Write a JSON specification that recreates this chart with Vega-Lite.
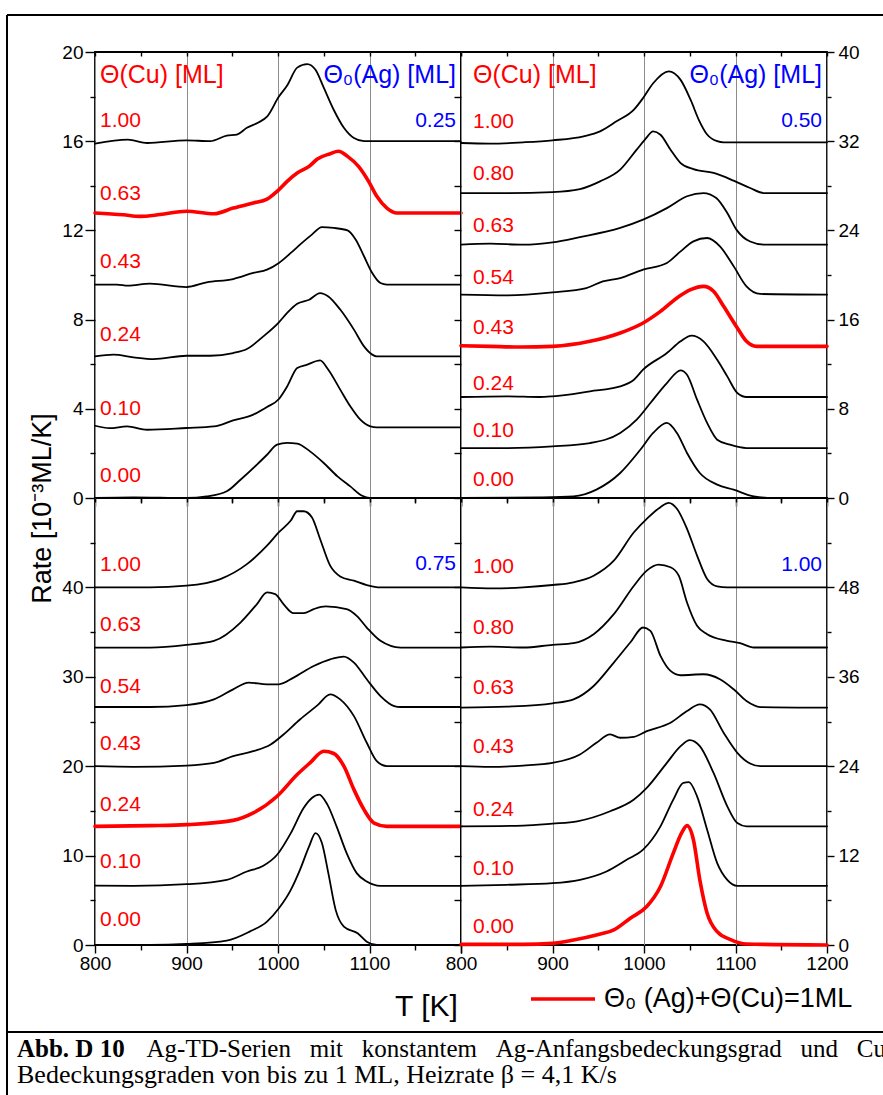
{
"$schema": "https://vega.github.io/schema/vega-lite/v6.json",
"autosize": {"type": "none"},
"padding": {"left": 7, "top": 15, "right": 876, "bottom": 1080},
"background": "white",
"bounds": "flush",
"align": "each",
"spacing": 0,
"columns": 3,
"config": {
  "view": {"stroke": "black", "strokeWidth": 1.8},
  "axis": {"domain": false, "labelFont": "Liberation Sans", "labelFontSize": 19, "labelColor": "black", "tickColor": "black", "tickWidth": 1.4, "titleFont": "Liberation Sans", "titleFontWeight": "normal", "titleColor": "black", "labelOverlap": false, "labelFlush": false, "grid": false, "gridColor": "#8c8c8c", "gridWidth": 1},
  "line": {"strokeJoin": "round", "strokeCap": "round"}
},
"datasets": {
"tl": [
{"c":"1.00","k":"b","T":800,"r":15.89},{"c":"1.00","k":"b","T":836,"r":16.07},{"c":"1.00","k":"b","T":857,"r":15.92},{"c":"1.00","k":"b","T":900,"r":16.04},{"c":"1.00","k":"b","T":926,"r":16.0},{"c":"1.00","k":"b","T":944,"r":16.25},{"c":"1.00","k":"b","T":955,"r":16.3},{"c":"1.00","k":"b","T":966,"r":16.6},{"c":"1.00","k":"b","T":979,"r":16.85},{"c":"1.00","k":"b","T":988,"r":17.1},{"c":"1.00","k":"b","T":1001,"r":18.0},{"c":"1.00","k":"b","T":1010,"r":18.5},{"c":"1.00","k":"b","T":1021,"r":19.3},{"c":"1.00","k":"b","T":1032,"r":19.46},{"c":"1.00","k":"b","T":1041,"r":19.2},{"c":"1.00","k":"b","T":1050,"r":18.4},{"c":"1.00","k":"b","T":1061,"r":17.4},{"c":"1.00","k":"b","T":1072,"r":16.6},{"c":"1.00","k":"b","T":1083,"r":16.14},{"c":"1.00","k":"b","T":1094,"r":16.0},{"c":"1.00","k":"b","T":1200,"r":16.0},
{"c":"0.63","k":"r","T":800,"r":12.78},{"c":"0.63","k":"r","T":831,"r":12.7},{"c":"0.63","k":"r","T":849,"r":12.63},{"c":"0.63","k":"r","T":871,"r":12.71},{"c":"0.63","k":"r","T":900,"r":12.86},{"c":"0.63","k":"r","T":930,"r":12.75},{"c":"0.63","k":"r","T":951,"r":13.0},{"c":"0.63","k":"r","T":973,"r":13.23},{"c":"0.63","k":"r","T":988,"r":13.4},{"c":"0.63","k":"r","T":999,"r":13.75},{"c":"0.63","k":"r","T":1010,"r":14.2},{"c":"0.63","k":"r","T":1021,"r":14.57},{"c":"0.63","k":"r","T":1034,"r":14.87},{"c":"0.63","k":"r","T":1043,"r":15.2},{"c":"0.63","k":"r","T":1057,"r":15.44},{"c":"0.63","k":"r","T":1066,"r":15.55},{"c":"0.63","k":"r","T":1076,"r":15.32},{"c":"0.63","k":"r","T":1088,"r":14.87},{"c":"0.63","k":"r","T":1099,"r":14.2},{"c":"0.63","k":"r","T":1108,"r":13.53},{"c":"0.63","k":"r","T":1119,"r":13.0},{"c":"0.63","k":"r","T":1130,"r":12.78},{"c":"0.63","k":"r","T":1200,"r":12.78},
{"c":"0.43","k":"b","T":800,"r":9.57},{"c":"0.43","k":"b","T":824,"r":9.57},{"c":"0.43","k":"b","T":836,"r":9.52},{"c":"0.43","k":"b","T":860,"r":9.61},{"c":"0.43","k":"b","T":900,"r":9.46},{"c":"0.43","k":"b","T":922,"r":9.67},{"c":"0.43","k":"b","T":951,"r":9.82},{"c":"0.43","k":"b","T":973,"r":10.09},{"c":"0.43","k":"b","T":988,"r":10.24},{"c":"0.43","k":"b","T":1001,"r":10.54},{"c":"0.43","k":"b","T":1014,"r":10.99},{"c":"0.43","k":"b","T":1024,"r":11.36},{"c":"0.43","k":"b","T":1037,"r":11.81},{"c":"0.43","k":"b","T":1048,"r":12.15},{"c":"0.43","k":"b","T":1061,"r":12.11},{"c":"0.43","k":"b","T":1076,"r":12.0},{"c":"0.43","k":"b","T":1085,"r":11.58},{"c":"0.43","k":"b","T":1094,"r":10.84},{"c":"0.43","k":"b","T":1103,"r":10.09},{"c":"0.43","k":"b","T":1112,"r":9.64},{"c":"0.43","k":"b","T":1119,"r":9.57},{"c":"0.43","k":"b","T":1200,"r":9.57},
{"c":"0.24","k":"b","T":800,"r":6.35},{"c":"0.24","k":"b","T":820,"r":6.43},{"c":"0.24","k":"b","T":842,"r":6.31},{"c":"0.24","k":"b","T":864,"r":6.23},{"c":"0.24","k":"b","T":900,"r":6.38},{"c":"0.24","k":"b","T":926,"r":6.38},{"c":"0.24","k":"b","T":951,"r":6.5},{"c":"0.24","k":"b","T":966,"r":6.68},{"c":"0.24","k":"b","T":984,"r":7.25},{"c":"0.24","k":"b","T":1001,"r":7.88},{"c":"0.24","k":"b","T":1010,"r":8.3},{"c":"0.24","k":"b","T":1021,"r":8.71},{"c":"0.24","k":"b","T":1034,"r":8.89},{"c":"0.24","k":"b","T":1046,"r":9.19},{"c":"0.24","k":"b","T":1055,"r":9.04},{"c":"0.24","k":"b","T":1068,"r":8.45},{"c":"0.24","k":"b","T":1083,"r":7.55},{"c":"0.24","k":"b","T":1094,"r":6.8},{"c":"0.24","k":"b","T":1103,"r":6.43},{"c":"0.24","k":"b","T":1108,"r":6.35},{"c":"0.24","k":"b","T":1200,"r":6.35},
{"c":"0.10","k":"b","T":800,"r":3.24},{"c":"0.10","k":"b","T":816,"r":3.13},{"c":"0.10","k":"b","T":835,"r":3.21},{"c":"0.10","k":"b","T":857,"r":3.06},{"c":"0.10","k":"b","T":900,"r":3.14},{"c":"0.10","k":"b","T":930,"r":3.21},{"c":"0.10","k":"b","T":951,"r":3.48},{"c":"0.10","k":"b","T":973,"r":3.74},{"c":"0.10","k":"b","T":988,"r":4.08},{"c":"0.10","k":"b","T":1001,"r":4.44},{"c":"0.10","k":"b","T":1010,"r":5.0},{"c":"0.10","k":"b","T":1021,"r":5.83},{"c":"0.10","k":"b","T":1032,"r":5.98},{"c":"0.10","k":"b","T":1046,"r":6.17},{"c":"0.10","k":"b","T":1055,"r":5.75},{"c":"0.10","k":"b","T":1068,"r":4.86},{"c":"0.10","k":"b","T":1079,"r":4.11},{"c":"0.10","k":"b","T":1090,"r":3.51},{"c":"0.10","k":"b","T":1101,"r":3.21},{"c":"0.10","k":"b","T":1108,"r":3.17},{"c":"0.10","k":"b","T":1200,"r":3.17},
{"c":"0.00","k":"b","T":800,"r":0},{"c":"0.00","k":"b","T":842,"r":0.03},{"c":"0.00","k":"b","T":900,"r":0},{"c":"0.00","k":"b","T":922,"r":0.07},{"c":"0.00","k":"b","T":944,"r":0.3},{"c":"0.00","k":"b","T":959,"r":0.82},{"c":"0.00","k":"b","T":977,"r":1.5},{"c":"0.00","k":"b","T":988,"r":1.94},{"c":"0.00","k":"b","T":999,"r":2.39},{"c":"0.00","k":"b","T":1010,"r":2.47},{"c":"0.00","k":"b","T":1021,"r":2.44},{"c":"0.00","k":"b","T":1035,"r":2.09},{"c":"0.00","k":"b","T":1050,"r":1.57},{"c":"0.00","k":"b","T":1065,"r":0.97},{"c":"0.00","k":"b","T":1079,"r":0.52},{"c":"0.00","k":"b","T":1092,"r":0.1},{"c":"0.00","k":"b","T":1100,"r":0},{"c":"0.00","k":"b","T":1200,"r":0}
],
"tr": [
{"c":"1.00","k":"b","T":800,"r":31.84},{"c":"1.00","k":"b","T":832,"r":31.78},{"c":"1.00","k":"b","T":868,"r":31.9},{"c":"1.00","k":"b","T":900,"r":32.08},{"c":"1.00","k":"b","T":934,"r":32.44},{"c":"1.00","k":"b","T":952,"r":32.88},{"c":"1.00","k":"b","T":970,"r":33.78},{"c":"1.00","k":"b","T":989,"r":34.83},{"c":"1.00","k":"b","T":999,"r":35.87},{"c":"1.00","k":"b","T":1010,"r":37.2},{"c":"1.00","k":"b","T":1027,"r":38.27},{"c":"1.00","k":"b","T":1040,"r":37.5},{"c":"1.00","k":"b","T":1051,"r":35.7},{"c":"1.00","k":"b","T":1060,"r":33.9},{"c":"1.00","k":"b","T":1069,"r":32.6},{"c":"1.00","k":"b","T":1080,"r":32.0},{"c":"1.00","k":"b","T":1087,"r":31.9},{"c":"1.00","k":"b","T":1200,"r":31.9},
{"c":"0.80","k":"b","T":800,"r":27.35},{"c":"0.80","k":"b","T":850,"r":27.35},{"c":"0.80","k":"b","T":900,"r":27.44},{"c":"0.80","k":"b","T":930,"r":27.71},{"c":"0.80","k":"b","T":952,"r":28.4},{"c":"0.80","k":"b","T":974,"r":29.45},{"c":"0.80","k":"b","T":992,"r":31.24},{"c":"0.80","k":"b","T":1001,"r":32.14},{"c":"0.80","k":"b","T":1010,"r":32.88},{"c":"0.80","k":"b","T":1018,"r":32.58},{"c":"0.80","k":"b","T":1029,"r":31.24},{"c":"0.80","k":"b","T":1040,"r":30.04},{"c":"0.80","k":"b","T":1054,"r":29.5},{"c":"0.80","k":"b","T":1076,"r":29.15},{"c":"0.80","k":"b","T":1098,"r":28.46},{"c":"0.80","k":"b","T":1116,"r":27.8},{"c":"0.80","k":"b","T":1131,"r":27.35},{"c":"0.80","k":"b","T":1200,"r":27.35},
{"c":"0.63","k":"b","T":800,"r":22.72},{"c":"0.63","k":"b","T":832,"r":22.81},{"c":"0.63","k":"b","T":868,"r":22.72},{"c":"0.63","k":"b","T":900,"r":22.93},{"c":"0.63","k":"b","T":930,"r":23.4},{"c":"0.63","k":"b","T":974,"r":24.22},{"c":"0.63","k":"b","T":999,"r":24.96},{"c":"0.63","k":"b","T":1025,"r":26.0},{"c":"0.63","k":"b","T":1047,"r":27.06},{"c":"0.63","k":"b","T":1065,"r":27.35},{"c":"0.63","k":"b","T":1079,"r":26.9},{"c":"0.63","k":"b","T":1091,"r":25.56},{"c":"0.63","k":"b","T":1101,"r":24.07},{"c":"0.63","k":"b","T":1116,"r":23.0},{"c":"0.63","k":"b","T":1131,"r":22.72},{"c":"0.63","k":"b","T":1200,"r":22.72},
{"c":"0.54","k":"b","T":800,"r":18.24},{"c":"0.54","k":"b","T":850,"r":18.18},{"c":"0.54","k":"b","T":900,"r":18.45},{"c":"0.54","k":"b","T":937,"r":18.83},{"c":"0.54","k":"b","T":955,"r":19.43},{"c":"0.54","k":"b","T":974,"r":19.73},{"c":"0.54","k":"b","T":999,"r":20.48},{"c":"0.54","k":"b","T":1025,"r":21.08},{"c":"0.54","k":"b","T":1040,"r":22.12},{"c":"0.54","k":"b","T":1054,"r":23.02},{"c":"0.54","k":"b","T":1069,"r":23.32},{"c":"0.54","k":"b","T":1083,"r":22.57},{"c":"0.54","k":"b","T":1098,"r":20.78},{"c":"0.54","k":"b","T":1112,"r":18.98},{"c":"0.54","k":"b","T":1127,"r":18.3},{"c":"0.54","k":"b","T":1200,"r":18.24},
{"c":"0.43","k":"r","T":800,"r":13.66},{"c":"0.43","k":"r","T":832,"r":13.6},{"c":"0.43","k":"r","T":865,"r":13.54},{"c":"0.43","k":"r","T":900,"r":13.6},{"c":"0.43","k":"r","T":941,"r":14.05},{"c":"0.43","k":"r","T":974,"r":14.8},{"c":"0.43","k":"r","T":999,"r":15.7},{"c":"0.43","k":"r","T":1018,"r":16.74},{"c":"0.43","k":"r","T":1036,"r":17.94},{"c":"0.43","k":"r","T":1051,"r":18.68},{"c":"0.43","k":"r","T":1065,"r":18.98},{"c":"0.43","k":"r","T":1076,"r":18.54},{"c":"0.43","k":"r","T":1087,"r":17.19},{"c":"0.43","k":"r","T":1102,"r":15.25},{"c":"0.43","k":"r","T":1112,"r":14.05},{"c":"0.43","k":"r","T":1123,"r":13.6},{"c":"0.43","k":"r","T":1200,"r":13.6},
{"c":"0.24","k":"b","T":800,"r":9.06},{"c":"0.24","k":"b","T":850,"r":9.12},{"c":"0.24","k":"b","T":886,"r":9.06},{"c":"0.24","k":"b","T":900,"r":9.12},{"c":"0.24","k":"b","T":941,"r":9.57},{"c":"0.24","k":"b","T":974,"r":10.01},{"c":"0.24","k":"b","T":989,"r":10.61},{"c":"0.24","k":"b","T":999,"r":11.51},{"c":"0.24","k":"b","T":1025,"r":13.0},{"c":"0.24","k":"b","T":1040,"r":14.05},{"c":"0.24","k":"b","T":1052,"r":14.56},{"c":"0.24","k":"b","T":1065,"r":14.05},{"c":"0.24","k":"b","T":1080,"r":12.4},{"c":"0.24","k":"b","T":1091,"r":10.91},{"c":"0.24","k":"b","T":1102,"r":9.42},{"c":"0.24","k":"b","T":1112,"r":9.06},{"c":"0.24","k":"b","T":1200,"r":9.06},
{"c":"0.10","k":"b","T":800,"r":4.48},{"c":"0.10","k":"b","T":850,"r":4.48},{"c":"0.10","k":"b","T":900,"r":4.63},{"c":"0.10","k":"b","T":941,"r":4.93},{"c":"0.10","k":"b","T":974,"r":5.83},{"c":"0.10","k":"b","T":992,"r":7.03},{"c":"0.10","k":"b","T":1007,"r":8.52},{"c":"0.10","k":"b","T":1025,"r":10.31},{"c":"0.10","k":"b","T":1040,"r":11.45},{"c":"0.10","k":"b","T":1047,"r":11.06},{"c":"0.10","k":"b","T":1058,"r":8.82},{"c":"0.10","k":"b","T":1069,"r":6.73},{"c":"0.10","k":"b","T":1080,"r":5.23},{"c":"0.10","k":"b","T":1094,"r":4.78},{"c":"0.10","k":"b","T":1112,"r":4.48},{"c":"0.10","k":"b","T":1200,"r":4.48},
{"c":"0.00","k":"b","T":800,"r":0},{"c":"0.00","k":"b","T":886,"r":0.06},{"c":"0.00","k":"b","T":923,"r":0.15},{"c":"0.00","k":"b","T":948,"r":0.75},{"c":"0.00","k":"b","T":974,"r":2.24},{"c":"0.00","k":"b","T":996,"r":4.33},{"c":"0.00","k":"b","T":1010,"r":5.83},{"c":"0.00","k":"b","T":1025,"r":6.73},{"c":"0.00","k":"b","T":1036,"r":5.83},{"c":"0.00","k":"b","T":1047,"r":4.04},{"c":"0.00","k":"b","T":1061,"r":2.24},{"c":"0.00","k":"b","T":1080,"r":1.2},{"c":"0.00","k":"b","T":1098,"r":0.75},{"c":"0.00","k":"b","T":1120,"r":0.15},{"c":"0.00","k":"b","T":1141,"r":0},{"c":"0.00","k":"b","T":1200,"r":0}
],
"bl": [
{"c":"1.00","k":"b","T":800,"r":40},{"c":"1.00","k":"b","T":860,"r":40},{"c":"1.00","k":"b","T":900,"r":40.19},{"c":"1.00","k":"b","T":937,"r":40.93},{"c":"1.00","k":"b","T":966,"r":42.6},{"c":"1.00","k":"b","T":988,"r":44.67},{"c":"1.00","k":"b","T":1001,"r":46.17},{"c":"1.00","k":"b","T":1014,"r":47.48},{"c":"1.00","k":"b","T":1021,"r":48.52},{"c":"1.00","k":"b","T":1028,"r":48.52},{"c":"1.00","k":"b","T":1037,"r":47.85},{"c":"1.00","k":"b","T":1046,"r":45.42},{"c":"1.00","k":"b","T":1057,"r":42.43},{"c":"1.00","k":"b","T":1068,"r":41.23},{"c":"1.00","k":"b","T":1083,"r":40.75},{"c":"1.00","k":"b","T":1097,"r":40.26},{"c":"1.00","k":"b","T":1112,"r":40},{"c":"1.00","k":"b","T":1200,"r":40},
{"c":"0.63","k":"b","T":800,"r":33.27},{"c":"0.63","k":"b","T":860,"r":33.27},{"c":"0.63","k":"b","T":900,"r":33.57},{"c":"0.63","k":"b","T":930,"r":34.02},{"c":"0.63","k":"b","T":959,"r":36.07},{"c":"0.63","k":"b","T":977,"r":38.13},{"c":"0.63","k":"b","T":988,"r":39.44},{"c":"0.63","k":"b","T":997,"r":39.25},{"c":"0.63","k":"b","T":1006,"r":38.13},{"c":"0.63","k":"b","T":1017,"r":37.12},{"c":"0.63","k":"b","T":1028,"r":37.12},{"c":"0.63","k":"b","T":1039,"r":37.57},{"c":"0.63","k":"b","T":1052,"r":37.87},{"c":"0.63","k":"b","T":1075,"r":37.57},{"c":"0.63","k":"b","T":1086,"r":36.82},{"c":"0.63","k":"b","T":1097,"r":35.51},{"c":"0.63","k":"b","T":1112,"r":34.02},{"c":"0.63","k":"b","T":1134,"r":33.27},{"c":"0.63","k":"b","T":1200,"r":33.27},
{"c":"0.54","k":"b","T":800,"r":26.62},{"c":"0.54","k":"b","T":860,"r":26.62},{"c":"0.54","k":"b","T":900,"r":26.84},{"c":"0.54","k":"b","T":930,"r":27.48},{"c":"0.54","k":"b","T":951,"r":28.6},{"c":"0.54","k":"b","T":968,"r":29.35},{"c":"0.54","k":"b","T":988,"r":29.16},{"c":"0.54","k":"b","T":1001,"r":29.16},{"c":"0.54","k":"b","T":1017,"r":29.91},{"c":"0.54","k":"b","T":1039,"r":31.21},{"c":"0.54","k":"b","T":1057,"r":31.96},{"c":"0.54","k":"b","T":1072,"r":32.26},{"c":"0.54","k":"b","T":1083,"r":31.59},{"c":"0.54","k":"b","T":1097,"r":29.72},{"c":"0.54","k":"b","T":1112,"r":27.85},{"c":"0.54","k":"b","T":1127,"r":26.73},{"c":"0.54","k":"b","T":1134,"r":26.62},{"c":"0.54","k":"b","T":1200,"r":26.62},
{"c":"0.43","k":"b","T":800,"r":20},{"c":"0.43","k":"b","T":842,"r":19.93},{"c":"0.43","k":"b","T":900,"r":20.07},{"c":"0.43","k":"b","T":930,"r":20.37},{"c":"0.43","k":"b","T":951,"r":21.12},{"c":"0.43","k":"b","T":973,"r":21.68},{"c":"0.43","k":"b","T":992,"r":22.43},{"c":"0.43","k":"b","T":1006,"r":23.55},{"c":"0.43","k":"b","T":1024,"r":25.23},{"c":"0.43","k":"b","T":1043,"r":26.8},{"c":"0.43","k":"b","T":1057,"r":28.04},{"c":"0.43","k":"b","T":1068,"r":27.48},{"c":"0.43","k":"b","T":1083,"r":25.6},{"c":"0.43","k":"b","T":1097,"r":22.62},{"c":"0.43","k":"b","T":1108,"r":20.56},{"c":"0.43","k":"b","T":1119,"r":20},{"c":"0.43","k":"b","T":1200,"r":20},
{"c":"0.24","k":"r","T":800,"r":13.27},{"c":"0.24","k":"r","T":860,"r":13.35},{"c":"0.24","k":"r","T":900,"r":13.46},{"c":"0.24","k":"r","T":951,"r":13.94},{"c":"0.24","k":"r","T":973,"r":14.77},{"c":"0.24","k":"r","T":999,"r":16.64},{"c":"0.24","k":"r","T":1021,"r":19.07},{"c":"0.24","k":"r","T":1035,"r":20.37},{"c":"0.24","k":"r","T":1050,"r":21.68},{"c":"0.24","k":"r","T":1061,"r":21.42},{"c":"0.24","k":"r","T":1072,"r":20.0},{"c":"0.24","k":"r","T":1083,"r":17.38},{"c":"0.24","k":"r","T":1094,"r":15.14},{"c":"0.24","k":"r","T":1105,"r":13.64},{"c":"0.24","k":"r","T":1119,"r":13.27},{"c":"0.24","k":"r","T":1200,"r":13.27},
{"c":"0.10","k":"b","T":800,"r":6.65},{"c":"0.10","k":"b","T":842,"r":6.62},{"c":"0.10","k":"b","T":900,"r":6.8},{"c":"0.10","k":"b","T":944,"r":7.29},{"c":"0.10","k":"b","T":966,"r":8.22},{"c":"0.10","k":"b","T":984,"r":8.86},{"c":"0.10","k":"b","T":999,"r":10.09},{"c":"0.10","k":"b","T":1014,"r":12.52},{"c":"0.10","k":"b","T":1028,"r":15.33},{"c":"0.10","k":"b","T":1037,"r":16.45},{"c":"0.10","k":"b","T":1045,"r":16.82},{"c":"0.10","k":"b","T":1054,"r":15.7},{"c":"0.10","k":"b","T":1064,"r":13.27},{"c":"0.10","k":"b","T":1075,"r":10.28},{"c":"0.10","k":"b","T":1086,"r":8.04},{"c":"0.10","k":"b","T":1097,"r":7.1},{"c":"0.10","k":"b","T":1112,"r":6.62},{"c":"0.10","k":"b","T":1200,"r":6.62},
{"c":"0.00","k":"b","T":800,"r":0},{"c":"0.00","k":"b","T":860,"r":0},{"c":"0.00","k":"b","T":900,"r":0.11},{"c":"0.00","k":"b","T":944,"r":0.49},{"c":"0.00","k":"b","T":969,"r":1.5},{"c":"0.00","k":"b","T":988,"r":2.62},{"c":"0.00","k":"b","T":1001,"r":4.11},{"c":"0.00","k":"b","T":1014,"r":6.17},{"c":"0.00","k":"b","T":1024,"r":8.41},{"c":"0.00","k":"b","T":1034,"r":11.03},{"c":"0.00","k":"b","T":1041,"r":12.52},{"c":"0.00","k":"b","T":1048,"r":11.4},{"c":"0.00","k":"b","T":1055,"r":8.04},{"c":"0.00","k":"b","T":1063,"r":3.93},{"c":"0.00","k":"b","T":1072,"r":2.06},{"c":"0.00","k":"b","T":1087,"r":1.31},{"c":"0.00","k":"b","T":1097,"r":0.37},{"c":"0.00","k":"b","T":1108,"r":0},{"c":"0.00","k":"b","T":1200,"r":0}
],
"br": [
{"c":"1.00","k":"b","T":800,"r":48.0},{"c":"1.00","k":"b","T":835,"r":47.87},{"c":"1.00","k":"b","T":868,"r":48.0},{"c":"1.00","k":"b","T":900,"r":48.32},{"c":"1.00","k":"b","T":923,"r":48.68},{"c":"1.00","k":"b","T":945,"r":49.57},{"c":"1.00","k":"b","T":967,"r":51.59},{"c":"1.00","k":"b","T":989,"r":55.4},{"c":"1.00","k":"b","T":1003,"r":57.2},{"c":"1.00","k":"b","T":1018,"r":58.77},{"c":"1.00","k":"b","T":1027,"r":59.35},{"c":"1.00","k":"b","T":1036,"r":58.55},{"c":"1.00","k":"b","T":1047,"r":55.86},{"c":"1.00","k":"b","T":1058,"r":52.27},{"c":"1.00","k":"b","T":1069,"r":49.13},{"c":"1.00","k":"b","T":1080,"r":48.14},{"c":"1.00","k":"b","T":1091,"r":48.0},{"c":"1.00","k":"b","T":1200,"r":48.0},
{"c":"0.80","k":"b","T":800,"r":39.93},{"c":"0.80","k":"b","T":832,"r":40.06},{"c":"0.80","k":"b","T":868,"r":39.93},{"c":"0.80","k":"b","T":900,"r":40.29},{"c":"0.80","k":"b","T":923,"r":40.51},{"c":"0.80","k":"b","T":945,"r":41.72},{"c":"0.80","k":"b","T":967,"r":44.41},{"c":"0.80","k":"b","T":989,"r":48.23},{"c":"0.80","k":"b","T":1003,"r":50.25},{"c":"0.80","k":"b","T":1016,"r":51.05},{"c":"0.80","k":"b","T":1029,"r":50.7},{"c":"0.80","k":"b","T":1038,"r":49.57},{"c":"0.80","k":"b","T":1047,"r":45.98},{"c":"0.80","k":"b","T":1058,"r":42.84},{"c":"0.80","k":"b","T":1069,"r":41.72},{"c":"0.80","k":"b","T":1091,"r":40.83},{"c":"0.80","k":"b","T":1105,"r":40.51},{"c":"0.80","k":"b","T":1120,"r":39.93},{"c":"0.80","k":"b","T":1200,"r":39.93},
{"c":"0.63","k":"b","T":800,"r":31.85},{"c":"0.63","k":"b","T":850,"r":31.99},{"c":"0.63","k":"b","T":900,"r":32.44},{"c":"0.63","k":"b","T":923,"r":32.97},{"c":"0.63","k":"b","T":945,"r":34.77},{"c":"0.63","k":"b","T":967,"r":37.91},{"c":"0.63","k":"b","T":985,"r":40.6},{"c":"0.63","k":"b","T":999,"r":42.62},{"c":"0.63","k":"b","T":1007,"r":42.17},{"c":"0.63","k":"b","T":1018,"r":38.81},{"c":"0.63","k":"b","T":1029,"r":36.79},{"c":"0.63","k":"b","T":1040,"r":36.21},{"c":"0.63","k":"b","T":1065,"r":36.34},{"c":"0.63","k":"b","T":1083,"r":35.67},{"c":"0.63","k":"b","T":1098,"r":34.32},{"c":"0.63","k":"b","T":1112,"r":32.75},{"c":"0.63","k":"b","T":1127,"r":31.94},{"c":"0.63","k":"b","T":1200,"r":31.85},
{"c":"0.43","k":"b","T":800,"r":24.0},{"c":"0.43","k":"b","T":832,"r":23.91},{"c":"0.43","k":"b","T":868,"r":24.09},{"c":"0.43","k":"b","T":900,"r":24.45},{"c":"0.43","k":"b","T":930,"r":25.57},{"c":"0.43","k":"b","T":948,"r":27.14},{"c":"0.43","k":"b","T":963,"r":28.26},{"c":"0.43","k":"b","T":974,"r":27.82},{"c":"0.43","k":"b","T":989,"r":27.95},{"c":"0.43","k":"b","T":1003,"r":28.71},{"c":"0.43","k":"b","T":1029,"r":29.83},{"c":"0.43","k":"b","T":1047,"r":31.4},{"c":"0.43","k":"b","T":1061,"r":32.3},{"c":"0.43","k":"b","T":1072,"r":31.63},{"c":"0.43","k":"b","T":1087,"r":28.49},{"c":"0.43","k":"b","T":1102,"r":25.8},{"c":"0.43","k":"b","T":1116,"r":24.36},{"c":"0.43","k":"b","T":1127,"r":24.0},{"c":"0.43","k":"b","T":1200,"r":24.0},
{"c":"0.24","k":"b","T":800,"r":15.93},{"c":"0.24","k":"b","T":868,"r":16.02},{"c":"0.24","k":"b","T":900,"r":16.29},{"c":"0.24","k":"b","T":927,"r":16.6},{"c":"0.24","k":"b","T":963,"r":17.95},{"c":"0.24","k":"b","T":989,"r":19.52},{"c":"0.24","k":"b","T":1003,"r":21.09},{"c":"0.24","k":"b","T":1025,"r":24.45},{"c":"0.24","k":"b","T":1040,"r":26.69},{"c":"0.24","k":"b","T":1050,"r":27.5},{"c":"0.24","k":"b","T":1061,"r":26.69},{"c":"0.24","k":"b","T":1076,"r":23.1},{"c":"0.24","k":"b","T":1091,"r":18.62},{"c":"0.24","k":"b","T":1102,"r":16.37},{"c":"0.24","k":"b","T":1112,"r":15.93},{"c":"0.24","k":"b","T":1200,"r":15.93},
{"c":"0.10","k":"b","T":800,"r":7.94},{"c":"0.10","k":"b","T":850,"r":8.08},{"c":"0.10","k":"b","T":900,"r":8.3},{"c":"0.10","k":"b","T":930,"r":8.75},{"c":"0.10","k":"b","T":959,"r":9.87},{"c":"0.10","k":"b","T":981,"r":11.44},{"c":"0.10","k":"b","T":999,"r":12.79},{"c":"0.10","k":"b","T":1018,"r":15.93},{"c":"0.10","k":"b","T":1032,"r":19.52},{"c":"0.10","k":"b","T":1043,"r":21.76},{"c":"0.10","k":"b","T":1049,"r":21.85},{"c":"0.10","k":"b","T":1058,"r":19.96},{"c":"0.10","k":"b","T":1069,"r":15.48},{"c":"0.10","k":"b","T":1080,"r":10.99},{"c":"0.10","k":"b","T":1091,"r":8.75},{"c":"0.10","k":"b","T":1102,"r":7.94},{"c":"0.10","k":"b","T":1200,"r":7.94},
{"c":"0.00","k":"r","T":800,"r":0.09},{"c":"0.00","k":"r","T":868,"r":0.09},{"c":"0.00","k":"r","T":900,"r":0.22},{"c":"0.00","k":"r","T":923,"r":0.67},{"c":"0.00","k":"r","T":948,"r":1.35},{"c":"0.00","k":"r","T":967,"r":2.02},{"c":"0.00","k":"r","T":985,"r":3.59},{"c":"0.00","k":"r","T":1003,"r":5.16},{"c":"0.00","k":"r","T":1018,"r":7.85},{"c":"0.00","k":"r","T":1032,"r":12.34},{"c":"0.00","k":"r","T":1041,"r":15.03},{"c":"0.00","k":"r","T":1047,"r":16.02},{"c":"0.00","k":"r","T":1054,"r":14.13},{"c":"0.00","k":"r","T":1061,"r":8.75},{"c":"0.00","k":"r","T":1069,"r":4.26},{"c":"0.00","k":"r","T":1080,"r":1.79},{"c":"0.00","k":"r","T":1094,"r":0.76},{"c":"0.00","k":"r","T":1112,"r":0.13},{"c":"0.00","k":"r","T":1200,"r":0}
],
"tl_lab": [
{"s":"L","t":"Θ(Cu) [ML]","y":18.61},{"s":"L","t":"1.00","y":16.64},{"s":"L","t":"0.63","y":13.38},{"s":"L","t":"0.43","y":10.31},{"s":"L","t":"0.24","y":7.03},{"s":"L","t":"0.10","y":3.74},{"s":"L","t":"0.00","y":0.70},
{"s":"R","t":"Θ₀(Ag) [ML]","y":18.61},{"s":"R","t":"0.25","y":16.64}
],
"tr_lab": [
{"s":"L","t":"Θ(Cu) [ML]","y":37.22},{"s":"L","t":"1.00","y":33.18},{"s":"L","t":"0.80","y":28.55},{"s":"L","t":"0.63","y":23.83},{"s":"L","t":"0.54","y":19.22},{"s":"L","t":"0.43","y":14.71},{"s":"L","t":"0.24","y":9.66},{"s":"L","t":"0.10","y":5.47},{"s":"L","t":"0.00","y":1.05},
{"s":"R","t":"Θ₀(Ag) [ML]","y":37.22},{"s":"R","t":"0.50","y":33.27}
],
"bl_lab": [
{"s":"L","t":"1.00","y":41.87},{"s":"L","t":"0.63","y":35.14},{"s":"L","t":"0.54","y":28.15},{"s":"L","t":"0.43","y":21.76},{"s":"L","t":"0.24","y":14.95},{"s":"L","t":"0.10","y":8.6},{"s":"L","t":"0.00","y":2.13},
{"s":"R","t":"0.75","y":41.94}
],
"br_lab": [
{"s":"L","t":"1.00","y":49.89},{"s":"L","t":"0.80","y":41.68},{"s":"L","t":"0.63","y":33.65},{"s":"L","t":"0.43","y":25.8},{"s":"L","t":"0.24","y":17.36},{"s":"L","t":"0.10","y":9.38},{"s":"L","t":"0.00","y":1.66},
{"s":"R","t":"1.00","y":50.25}
],
"caption": [
{"part":"head","line":1,"t":"Abb. D 10"},
{"part":"l1","line":1,"t":"Ag-TD-Serien\u2002\u2005mit\u2002\u2005konstantem\u2002\u2005Ag-Anfangsbedeckungsgrad\u2002\u2005und\u2002\u2005Cu"},
{"part":"l2","line":2,"t":"Bedeckungsgraden von bis zu 1 ML, Heizrate β = 4,1 K/s"}
]
},
"concat": [
{"width": 88, "height": 37, "data": {"values": []}, "mark": "point", "view": {"stroke": "black", "strokeWidth": 2, "strokeDash": [88, 125, 37, 0]}},
{"width": 366, "height": 37, "data": {"values": []}, "mark": "point", "view": {"stroke": "black", "strokeWidth": 2, "strokeDash": [366, 440]}},
{"width": 430, "height": 37, "data": {"values": []}, "mark": "point", "view": {"stroke": "black", "strokeWidth": 2, "strokeDash": [430, 504]}},
{"width": 88, "height": 446, "data": {"values": []}, "mark": "point", "view": {"stroke": "black", "strokeWidth": 2, "strokeDash": [0, 622, 446, 0]}},
{
  "width": 366, "height": 446,
  "resolve": {"axis": {"x": "independent", "y": "independent"}},
  "layer": [
  {
    "data": {"name": "tl"},
    "mark": {"type": "line", "interpolate": "monotone"},
    "encoding": {
      "x": {"field": "T", "type": "quantitative", "scale": {"domain": [800, 1200], "nice": false, "zero": false},
            "axis": {"orient": "bottom", "values": [800,850,900,950,1000,1050,1100,1150,1200], "labels": false, "tickSize": {"condition": {"test": "datum.value % 100 === 0", "value": 8}, "value": 5}, "grid": true, "gridOpacity": {"condition": {"test": "datum.value % 100 === 0", "value": 1}, "value": 0}, "title": null}},
      "y": {"field": "r", "type": "quantitative", "scale": {"domain": [0, 20], "nice": false, "zero": false},
            "axis": {"orient": "left", "values": [0,2,4,6,8,10,12,14,16,18,20], "labelExpr": "datum.value % 4 === 0 ? datum.label : ''", "tickSize": {"condition": {"test": "datum.value % 4 === 0", "value": 10}, "value": 5}, "labelPadding": 2, "title": "Rate [10⁻³ML/K]", "titleFontSize": 27, "titleX": -53, "titleY": 456, "titleAngle": 270, "titleBaseline": "middle", "titleAlign": "center"}},
      "color": {"field": "k", "type": "nominal", "scale": {"domain": ["r", "b"], "range": ["#ff0000", "#000000"]},
                "legend": {"orient": "none", "legendX": 522, "legendY": 950, "title": null, "values": ["r"], "labelExpr": "'Θ₀ (Ag)+Θ(Cu)=1ML'", "symbolType": "stroke", "symbolSize": 4096, "symbolStrokeWidth": 4.5, "labelFont": "Liberation Sans", "labelFontSize": 27, "labelColor": "black", "labelOffset": 7, "padding": 0, "labelLimit": 400}},
      "strokeWidth": {"field": "k", "type": "nominal", "scale": {"domain": ["r", "b"], "range": [3.6, 1.8]}, "legend": null},
      "detail": {"field": "c"}
    }
  },
  {
    "data": {"name": "tl_lab"},
    "transform": [{"filter": "datum.s === 'L'"}],
    "mark": {"type": "text", "align": "left", "baseline": "alphabetic", "dx": 5, "color": "#ff0000", "font": "Liberation Sans"},
    "encoding": {
      "x": {"datum": 800, "type": "quantitative", "axis": {"orient": "top", "values": [800,850,900,950,1000,1050,1100,1150,1200], "labels": false, "tickSize": -4, "grid": false, "title": null}},
      "y": {"field": "y", "type": "quantitative", "axis": null},
      "text": {"field": "t"},
      "size": {"condition": {"test": "length(datum.t) > 4", "value": 25}, "value": 21}
    }
  },
  {
    "data": {"name": "tl_lab"},
    "transform": [{"filter": "datum.s === 'R'"}],
    "mark": {"type": "text", "align": "right", "baseline": "alphabetic", "dx": -5, "color": "#0000ff", "font": "Liberation Sans"},
    "encoding": {
      "x": {"datum": 1200, "type": "quantitative", "axis": null},
      "y": {"field": "y", "type": "quantitative", "axis": null},
      "text": {"field": "t"},
      "size": {"condition": {"test": "length(datum.t) > 4", "value": 25}, "value": 21}
    }
  }
  ]
},
{
  "width": 366, "height": 446,
  "resolve": {"axis": {"x": "independent", "y": "independent"}},
  "layer": [
  {
    "data": {"name": "tr"},
    "mark": {"type": "line", "interpolate": "monotone"},
    "encoding": {
      "x": {"field": "T", "type": "quantitative", "scale": {"domain": [800, 1200], "nice": false, "zero": false},
            "axis": {"orient": "bottom", "values": [800,850,900,950,1000,1050,1100,1150,1200], "labels": false, "tickSize": {"condition": {"test": "datum.value % 100 === 0", "value": 8}, "value": 5}, "grid": true, "gridOpacity": {"condition": {"test": "datum.value % 100 === 0", "value": 1}, "value": 0}, "title": null}},
      "y": {"field": "r", "type": "quantitative", "scale": {"domain": [0, 40], "nice": false, "zero": false},
            "axis": {"orient": "left", "values": [0,4,8,12,16,20,24,28,32,36], "labels": false, "tickSize": 7, "title": null}},
      "color": {"field": "k", "type": "nominal", "scale": {"domain": ["r", "b"], "range": ["#ff0000", "#000000"]},
                "legend": {"orient": "none", "legendX": 522, "legendY": 950, "title": null, "values": ["r"], "labelExpr": "'Θ₀ (Ag)+Θ(Cu)=1ML'", "symbolType": "stroke", "symbolSize": 4096, "symbolStrokeWidth": 4.5, "labelFont": "Liberation Sans", "labelFontSize": 27, "labelColor": "black", "labelOffset": 7, "padding": 0, "labelLimit": 400}},
      "strokeWidth": {"field": "k", "type": "nominal", "scale": {"domain": ["r", "b"], "range": [3.6, 1.8]}, "legend": null},
      "detail": {"field": "c"}
    }
  },
  {
    "data": {"name": "tr_lab"},
    "transform": [{"filter": "datum.s === 'L'"}],
    "mark": {"type": "text", "align": "left", "baseline": "alphabetic", "dx": 12, "color": "#ff0000", "font": "Liberation Sans"},
    "encoding": {
      "x": {"datum": 800, "type": "quantitative", "axis": {"orient": "top", "values": [800,850,900,950,1000,1050,1100,1150,1200], "labels": false, "tickSize": -4, "grid": false, "title": null}},
      "y": {"field": "y", "type": "quantitative", "axis": {"orient": "right", "values": [0,4,8,12,16,20,24,28,32,36,40], "labelExpr": "datum.value % 8 === 0 ? datum.label : ''", "tickSize": {"condition": {"test": "datum.value % 8 === 0", "value": 7}, "value": 4}, "labelPadding": 4, "title": null}},
      "text": {"field": "t"},
      "size": {"condition": {"test": "length(datum.t) > 4", "value": 25}, "value": 21}
    }
  },
  {
    "data": {"name": "tr_lab"},
    "transform": [{"filter": "datum.s === 'R'"}],
    "mark": {"type": "text", "align": "right", "baseline": "alphabetic", "dx": -5, "color": "#0000ff", "font": "Liberation Sans"},
    "encoding": {
      "x": {"datum": 1200, "type": "quantitative", "axis": null},
      "y": {"field": "y", "type": "quantitative", "axis": null},
      "text": {"field": "t"},
      "size": {"condition": {"test": "length(datum.t) > 4", "value": 25}, "value": 21}
    }
  }
  ]
},
{"width": 88, "height": 447, "data": {"values": []}, "mark": "point", "view": {"stroke": "black", "strokeWidth": 2, "strokeDash": [0, 623, 447, 0]}},
{
  "width": 366, "height": 447,
  "resolve": {"axis": {"x": "independent", "y": "independent"}},
  "layer": [
  {
    "data": {"name": "bl"},
    "mark": {"type": "line", "interpolate": "monotone"},
    "encoding": {
      "x": {"field": "T", "type": "quantitative", "scale": {"domain": [800, 1200], "nice": false, "zero": false},
            "axis": {"orient": "bottom", "values": [800,850,900,950,1000,1050,1100,1150,1200], "format": "d", "labelExpr": "datum.value % 100 === 0 && datum.value < 1200 ? datum.label : ''", "tickSize": {"condition": {"test": "datum.value % 100 === 0", "value": 8}, "value": 5}, "labelPadding": 1, "grid": true, "gridOpacity": {"condition": {"test": "datum.value % 100 === 0", "value": 1}, "value": 0}, "title": "T [K]", "titleFontSize": 30, "titleX": 331, "titleY": 70, "titleBaseline": "alphabetic", "titleAlign": "center"}},
      "y": {"field": "r", "type": "quantitative", "scale": {"domain": [0, 50], "nice": false, "zero": false},
            "axis": {"orient": "left", "values": [0,5,10,15,20,25,30,35,40,45], "labelExpr": "datum.value % 10 === 0 ? datum.label : ''", "tickSize": {"condition": {"test": "datum.value % 10 === 0", "value": 10}, "value": 5}, "labelPadding": 2, "title": null}},
      "color": {"field": "k", "type": "nominal", "scale": {"domain": ["r", "b"], "range": ["#ff0000", "#000000"]},
                "legend": {"orient": "none", "legendX": 522, "legendY": 950, "title": null, "values": ["r"], "labelExpr": "'Θ₀ (Ag)+Θ(Cu)=1ML'", "symbolType": "stroke", "symbolSize": 4096, "symbolStrokeWidth": 4.5, "labelFont": "Liberation Sans", "labelFontSize": 27, "labelColor": "black", "labelOffset": 7, "padding": 0, "labelLimit": 400}},
      "strokeWidth": {"field": "k", "type": "nominal", "scale": {"domain": ["r", "b"], "range": [3.6, 1.8]}, "legend": null},
      "detail": {"field": "c"}
    }
  },
  {
    "data": {"name": "bl_lab"},
    "transform": [{"filter": "datum.s === 'L'"}],
    "mark": {"type": "text", "align": "left", "baseline": "alphabetic", "dx": 5, "color": "#ff0000", "font": "Liberation Sans", "fontSize": 21},
    "encoding": {
      "x": {"datum": 800, "type": "quantitative", "axis": {"orient": "top", "values": [800,850,900,950,1000,1050,1100,1150,1200], "labels": false, "tickSize": -4, "grid": false, "title": null}},
      "y": {"field": "y", "type": "quantitative", "axis": null},
      "text": {"field": "t"}
    }
  },
  {
    "data": {"name": "bl_lab"},
    "transform": [{"filter": "datum.s === 'R'"}],
    "mark": {"type": "text", "align": "right", "baseline": "alphabetic", "dx": -5, "color": "#0000ff", "font": "Liberation Sans", "fontSize": 21},
    "encoding": {
      "x": {"datum": 1200, "type": "quantitative", "axis": null},
      "y": {"field": "y", "type": "quantitative", "axis": null},
      "text": {"field": "t"}
    }
  }
  ]
},
{
  "width": 366, "height": 447,
  "resolve": {"axis": {"x": "independent", "y": "independent"}},
  "layer": [
  {
    "data": {"name": "br"},
    "mark": {"type": "line", "interpolate": "monotone"},
    "encoding": {
      "x": {"field": "T", "type": "quantitative", "scale": {"domain": [800, 1200], "nice": false, "zero": false},
            "axis": {"orient": "bottom", "values": [800,850,900,950,1000,1050,1100,1150,1200], "format": "d", "labelExpr": "datum.value % 100 === 0 ? datum.label : ''", "tickSize": {"condition": {"test": "datum.value % 100 === 0", "value": 8}, "value": 5}, "labelPadding": 1, "grid": true, "gridOpacity": {"condition": {"test": "datum.value % 100 === 0", "value": 1}, "value": 0}, "title": null}},
      "y": {"field": "r", "type": "quantitative", "scale": {"domain": [0, 60], "nice": false, "zero": false},
            "axis": {"orient": "left", "values": [0,6,12,18,24,30,36,42,48,54], "labels": false, "tickSize": 7, "title": null}},
      "color": {"field": "k", "type": "nominal", "scale": {"domain": ["r", "b"], "range": ["#ff0000", "#000000"]},
                "legend": {"orient": "none", "legendX": 522, "legendY": 950, "title": null, "values": ["r"], "labelExpr": "'Θ₀ (Ag)+Θ(Cu)=1ML'", "symbolType": "stroke", "symbolSize": 4096, "symbolStrokeWidth": 4.5, "labelFont": "Liberation Sans", "labelFontSize": 27, "labelColor": "black", "labelOffset": 7, "padding": 0, "labelLimit": 400}},
      "strokeWidth": {"field": "k", "type": "nominal", "scale": {"domain": ["r", "b"], "range": [3.6, 1.8]}, "legend": null},
      "detail": {"field": "c"}
    }
  },
  {
    "data": {"name": "br_lab"},
    "transform": [{"filter": "datum.s === 'L'"}],
    "mark": {"type": "text", "align": "left", "baseline": "alphabetic", "dx": 12, "color": "#ff0000", "font": "Liberation Sans", "fontSize": 21},
    "encoding": {
      "x": {"datum": 800, "type": "quantitative", "axis": {"orient": "top", "values": [800,850,900,950,1000,1050,1100,1150,1200], "labels": false, "tickSize": -4, "grid": false, "title": null}},
      "y": {"field": "y", "type": "quantitative", "axis": {"orient": "right", "values": [0,6,12,18,24,30,36,42,48,54], "labelExpr": "datum.value % 12 === 0 ? datum.label : ''", "tickSize": {"condition": {"test": "datum.value % 12 === 0", "value": 7}, "value": 4}, "labelPadding": 4, "title": null}},
      "text": {"field": "t"}
    }
  },
  {
    "data": {"name": "br_lab"},
    "transform": [{"filter": "datum.s === 'R'"}],
    "mark": {"type": "text", "align": "right", "baseline": "alphabetic", "dx": -5, "color": "#0000ff", "font": "Liberation Sans", "fontSize": 21},
    "encoding": {
      "x": {"datum": 1200, "type": "quantitative", "axis": null},
      "y": {"field": "y", "type": "quantitative", "axis": null},
      "text": {"field": "t"}
    }
  }
  ]
},
{"width": 88, "height": 87, "data": {"values": []}, "mark": "point", "view": {"stroke": "black", "strokeWidth": 2, "strokeDash": [0, 263, 87, 0]}},
{"width": 366, "height": 87, "data": {"values": []}, "mark": "point", "view": {"stroke": null}},
{"width": 430, "height": 87, "data": {"values": []}, "mark": "point", "view": {"stroke": null}},
{
  "width": 88, "height": 76,
  "view": {"stroke": "black", "strokeWidth": 2, "strokeDash": [88, 164, 76, 0]},
  "data": {"name": "caption"},
  "layer": [
  {
    "transform": [{"filter": "datum.part === 'head'"}],
    "mark": {"type": "text", "align": "left", "baseline": "alphabetic", "dx": 10, "font": "Liberation Serif", "fontSize": 25, "fontWeight": "bold", "color": "black"},
    "encoding": {
      "x": {"datum": 0, "type": "quantitative", "scale": {"domain": [0, 1]}, "axis": null},
      "y": {"field": "line", "type": "ordinal", "scale": {"type": "point", "domain": [1, 2], "padding": 0.96}, "axis": null},
      "text": {"field": "t"}
    }
  },
  {
    "transform": [{"filter": "datum.part === 'l2'"}],
    "mark": {"type": "text", "align": "left", "baseline": "alphabetic", "dx": 10, "font": "Liberation Serif", "fontSize": 26, "color": "black"},
    "encoding": {
      "x": {"datum": 0, "type": "quantitative", "axis": null},
      "y": {"field": "line", "type": "ordinal", "axis": null},
      "text": {"field": "t"}
    }
  }
  ]
},
{"width": 366, "height": 76, "data": {"values": []}, "mark": "point", "view": {"stroke": "black", "strokeWidth": 2, "strokeDash": [366, 518]}},
{
  "width": 430, "height": 76,
  "view": {"stroke": "black", "strokeWidth": 2, "strokeDash": [430, 582]},
  "data": {"name": "caption"},
  "transform": [{"filter": "datum.part === 'l1'"}],
  "mark": {"type": "text", "align": "right", "baseline": "alphabetic", "dx": -5, "font": "Liberation Serif", "fontSize": 25, "color": "black"},
  "encoding": {
    "x": {"datum": 1, "type": "quantitative", "scale": {"domain": [0, 1]}, "axis": null},
    "y": {"field": "line", "type": "ordinal", "scale": {"type": "point", "domain": [1, 2], "padding": 0.96}, "axis": null},
    "text": {"field": "t"}
  }
}
]
}
